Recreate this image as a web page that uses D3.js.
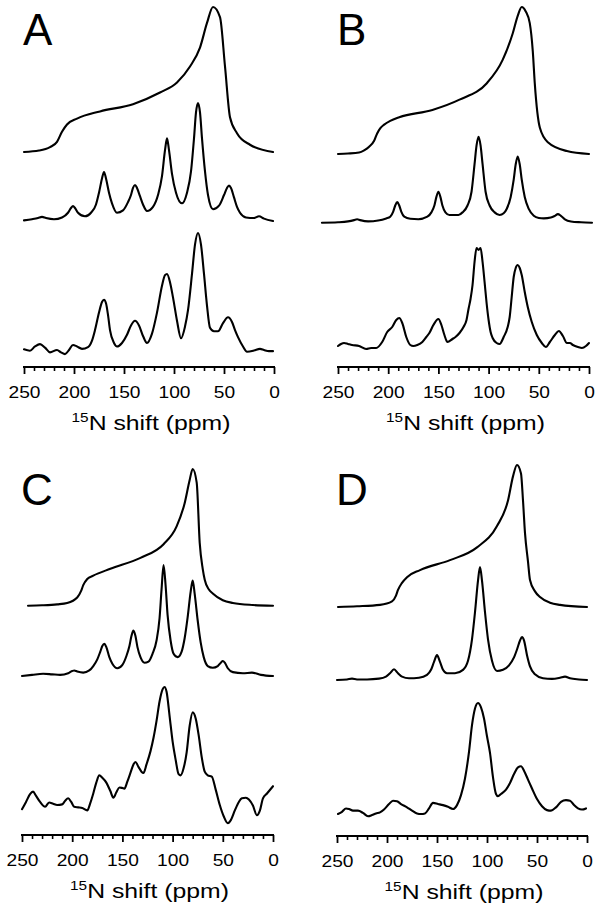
<!DOCTYPE html>
<html><head><meta charset="utf-8">
<script src="https://cdn.jsdelivr.net/npm/d3@7"></script>
<style>body{margin:0;background:#fff} svg{display:block}</style>
</head><body>
<script>
// ---- DATA: [ppm, relative intensity] ----
const panelLabels = ["A", "B", "C", "D"];
const majorTicks = [250, 200, 150, 100, 50, 0];
const minorTicks = [240, 230, 220, 210, 190, 180, 170, 160, 140, 130, 120, 110, 90, 80, 70, 60, 40, 30, 20, 10];

const aTop = [[250,0],[235,0.01],[224,0.034],[217,0.07],[212,0.14],[207,0.19],[197,0.23],[174,0.28],[141,0.33],[114,0.41],[97,0.48],[84,0.59],[74,0.72],[67,0.89],[61,1],[54,0.93],[49,0.59],[44,0.24],[37,0.13],[24,0.05],[1,0]];
const aMid = [[250,0.005],[242,0.015],[236,0.025],[232,0.035],[228,0.025],[220,0.015],[212,0.03],[206,0.07],[203,0.11],[201,0.127],[199,0.11],[196,0.07],[189,0.04],[183,0.07],[178,0.14],[175,0.24],[172,0.36],[170,0.415],[168,0.36],[165,0.24],[162,0.15],[157,0.07],[151,0.09],[146,0.16],[143,0.22],[141,0.28],[139,0.305],[137,0.28],[134,0.21],[131,0.14],[127,0.085],[121,0.12],[116,0.22],[112,0.38],[109,0.6],[107,0.70],[105,0.6],[102,0.4],[98,0.24],[92,0.15],[87,0.24],[83,0.42],[80,0.7],[78,0.92],[76,1.0],[74,0.92],[72,0.7],[69,0.42],[66,0.22],[61,0.10],[55,0.13],[50,0.22],[47,0.28],[45,0.30],[43,0.28],[40,0.2],[37,0.12],[34,0.07],[28,0.03],[20,0.025],[15,0.04],[10,0.02],[1,0.0]];
const aExp = [[250,0.006],[244,-0.006],[239,0.03],[234,0.05],[229,0.02],[224,-0.02],[217,0],[213,-0.02],[209,-0.035],[205,0.0],[201,0.043],[197,0.03],[192,0.01],[186,0.025],[182,0.08],[179,0.17],[175,0.32],[172,0.41],[170,0.43],[168,0.40],[166,0.30],[164,0.17],[160,0.06],[157,0.03],[152,0.06],[147,0.13],[143,0.21],[139,0.25],[135,0.21],[131,0.12],[127,0.06],[122,0.14],[117,0.32],[112,0.55],[109,0.64],[107,0.65],[104,0.58],[101,0.45],[97,0.25],[93,0.10],[89,0.2],[86,0.34],[82,0.65],[79,0.9],[76,1.0],[73,0.9],[70,0.65],[67,0.38],[64,0.19],[60,0.16],[56,0.16],[51,0.23],[46,0.28],[42,0.24],[39,0.17],[36,0.11],[31,0.03],[27,-0.015],[20,-0.005],[14,0.01],[10,0.0],[5,-0.01],[1,-0.01]];

const bTop = [[250,0],[240,0.003],[229,0.01],[224,0.025],[219,0.05],[214,0.09],[211,0.14],[208,0.175],[204,0.20],[198,0.225],[189,0.25],[156,0.30],[129,0.37],[102,0.48],[86,0.64],[76,0.82],[71,0.94],[67,1],[63,0.97],[59,0.89],[56,0.7],[54,0.48],[49,0.18],[41,0.08],[22,0.02],[0,0]];
const bMid = [[266,0.0],[250,0.005],[240,0.015],[234,0.03],[231,0.04],[228,0.03],[220,0.015],[210,0.025],[202,0.05],[198,0.07],[195,0.13],[193,0.2],[191,0.24],[189,0.2],[187,0.13],[184,0.07],[178,0.045],[170,0.04],[161,0.07],[157,0.12],[154,0.2],[152,0.3],[150,0.36],[148,0.3],[146,0.2],[143,0.12],[139,0.09],[130,0.09],[126,0.12],[121,0.2],[117,0.36],[114,0.68],[112,0.9],[110,1.0],[108,0.9],[106,0.68],[103,0.36],[99,0.2],[94,0.12],[89,0.09],[85,0.11],[82,0.16],[78,0.3],[75,0.5],[73,0.68],[71,0.77],[69,0.68],[67,0.5],[64,0.3],[60,0.16],[55,0.08],[50,0.055],[45,0.05],[38,0.06],[34,0.08],[31,0.10],[28,0.08],[24,0.04],[18,0.015],[8,0.005],[-3,0.0]];
const bExp = [[250,0.01],[247,0.03],[244,0.04],[240,0.03],[236,0.02],[229,0.01],[222,-0.02],[217,-0.01],[212,-0.01],[206,0.05],[201,0.15],[196,0.20],[192,0.27],[189,0.29],[186,0.24],[182,0.10],[178,0.02],[175,0.01],[171,0.02],[166,0.05],[162,0.10],[159,0.14],[155,0.22],[150,0.28],[147,0.22],[144,0.12],[141,0.05],[136,0.08],[133,0.1],[129,0.14],[125,0.2],[122,0.27],[120,0.38],[118,0.48],[116,0.62],[114,0.85],[112,0.99],[110,0.97],[108,0.99],[106,0.85],[104,0.65],[102,0.44],[100,0.27],[98,0.15],[96,0.09],[92,0.04],[89,0.03],[85,0.10],[81,0.2],[79,0.3],[77,0.5],[75,0.7],[73,0.79],[71,0.82],[69,0.79],[67,0.72],[64,0.55],[61,0.4],[57,0.25],[52,0.12],[47,0.04],[43,0.0],[39,0.05],[34,0.12],[30,0.16],[26,0.11],[22,0.04],[19,0.04],[16,0.02],[11,0.0],[7,-0.01],[3,0.01],[0,0.04]];

const cTop = [[244,0],[230,0.003],[215,0.01],[205,0.02],[195,0.06],[191,0.11],[189,0.15],[185,0.195],[179,0.22],[162,0.27],[132,0.35],[109,0.45],[96,0.58],[88,0.75],[83,0.92],[80,1.0],[76,0.90],[73,0.46],[70,0.27],[68,0.19],[64,0.12],[60,0.09],[50,0.04],[40,0.02],[20,0.005],[0,0]];
const cMid = [[250,0],[240,0.01],[229,0.02],[220,0.015],[212,0.01],[204,0.025],[200,0.045],[198,0.05],[195,0.04],[189,0.03],[183,0.05],[179,0.09],[175,0.15],[172,0.22],[170,0.27],[168,0.29],[166,0.26],[163,0.17],[160,0.11],[155,0.07],[150,0.10],[146,0.18],[143,0.27],[141,0.36],[139,0.41],[137,0.36],[135,0.26],[132,0.17],[128,0.12],[124,0.13],[120,0.2],[116,0.32],[113,0.52],[111,0.78],[109,1.0],[107,0.82],[105,0.55],[102,0.32],[99,0.2],[95,0.17],[91,0.22],[88,0.34],[85,0.53],[82,0.76],[80,0.86],[78,0.74],[75,0.5],[72,0.3],[69,0.17],[65,0.09],[60,0.075],[55,0.09],[52,0.12],[50,0.135],[48,0.12],[45,0.07],[40,0.035],[30,0.025],[21,0.03],[12,0.01],[0,0]];
const cExp = [[250,-0.01],[246,0.05],[242,0.115],[239,0.135],[236,0.10],[232,0.05],[227,0.01],[223,0.045],[219,0.035],[215,0.025],[210,0.03],[207,0.06],[204,0.08],[201,0.05],[198,0.01],[194,0.005],[190,0.0],[185,-0.02],[182,0.04],[179,0.12],[176,0.21],[173,0.27],[170,0.25],[166,0.21],[162,0.14],[159,0.085],[156,0.13],[153,0.17],[150,0.165],[148,0.16],[145,0.22],[142,0.29],[139,0.36],[137,0.38],[134,0.34],[131,0.30],[129,0.29],[126,0.36],[122,0.47],[119,0.58],[116,0.72],[113,0.88],[110,0.98],[108,1.0],[106,0.96],[103,0.76],[100,0.55],[97,0.40],[94,0.28],[92,0.27],[89,0.33],[86,0.46],[83,0.68],[80,0.79],[77,0.74],[74,0.6],[71,0.42],[68,0.3],[65,0.27],[61,0.26],[57,0.15],[53,0.025],[49,-0.07],[45,-0.125],[42,-0.1],[38,-0.02],[34,0.05],[31,0.08],[27,0.085],[24,0.07],[20,0.02],[16,-0.06],[13,-0.02],[10,0.08],[6,0.12],[0,0.18]];

const dTop = [[249,0],[230,0.005],[207,0.015],[195,0.04],[191,0.08],[189,0.12],[185,0.17],[180,0.21],[167,0.26],[137,0.33],[110,0.42],[90,0.57],[79,0.75],[74,0.92],[70,1.0],[66,0.94],[64,0.75],[62,0.52],[59,0.32],[57,0.19],[52,0.11],[47,0.07],[37,0.03],[27,0.015],[0,0]];
const dMid = [[250,0],[240,0.005],[235,0.012],[230,0.005],[220,0.005],[208,0.012],[201,0.03],[197,0.06],[193,0.095],[189,0.06],[185,0.03],[178,0.015],[168,0.02],[160,0.045],[156,0.09],[153,0.16],[150,0.22],[147,0.16],[144,0.09],[140,0.06],[132,0.06],[124,0.09],[119,0.17],[115,0.36],[112,0.6],[109,0.88],[107,1.0],[105,0.88],[102,0.6],[99,0.36],[95,0.17],[90,0.08],[84,0.09],[78,0.13],[73,0.2],[70,0.27],[67,0.35],[65,0.38],[63,0.35],[60,0.22],[57,0.12],[52,0.05],[44,0.015],[35,0.01],[27,0.02],[22,0.03],[17,0.015],[8,0.005],[0,0]];
const dExp = [[249,0],[245,0.02],[241,0.05],[238,0.045],[234,0.03],[229,0.03],[224,0.01],[219,-0.02],[215,-0.01],[211,0.005],[207,0.015],[203,0.04],[198,0.09],[194,0.12],[190,0.115],[186,0.09],[180,0.06],[175,0.03],[170,0.005],[166,0.0],[162,0.005],[158,0.05],[154,0.10],[149,0.09],[144,0.08],[139,0.065],[134,0.045],[130,0.08],[126,0.17],[122,0.32],[118,0.56],[115,0.80],[112,0.95],[109,1.0],[106,0.96],[103,0.86],[100,0.7],[97,0.55],[94,0.33],[91,0.18],[89,0.16],[86,0.18],[81,0.22],[77,0.28],[73,0.36],[69,0.42],[66,0.43],[63,0.39],[59,0.31],[55,0.23],[50,0.135],[45,0.07],[40,0.035],[36,0.03],[31,0.06],[26,0.11],[21,0.125],[17,0.12],[13,0.08],[9,0.05],[5,0.04],[1,0.05]];

// ---- LAYOUT ----
const W = 601, H = 913;
const panels = [
  {label: panelLabels[0], x0: 24,  x1: 274, axisY: 367, labelY: 45,
   traces: [{d: aTop, base: 152, amp: 145}, {d: aMid, base: 221, amp: 118}, {d: aExp, base: 350, amp: 117}]},
  {label: panelLabels[1], x0: 338, x1: 589, axisY: 367, labelY: 45,
   traces: [{d: bTop, base: 154, amp: 147}, {d: bMid, base: 222.7, amp: 86}, {d: bExp, base: 347, amp: 100}]},
  {label: panelLabels[2], x0: 22,  x1: 273, axisY: 835, labelY: 505,
   traces: [{d: cTop, base: 605.7, amp: 136.7}, {d: cMid, base: 676, amp: 111}, {d: cExp, base: 808, amp: 121}]},
  {label: panelLabels[3], x0: 337, x1: 587, axisY: 836, labelY: 505,
   traces: [{d: dTop, base: 607, amp: 142}, {d: dMid, base: 680, amp: 113}, {d: dExp, base: 814, amp: 111}]}
];
const FONT = "'Liberation Sans', Arial, Helvetica, sans-serif";

const svg = d3.select("body").append("svg").attr("width", W).attr("height", H)
  .style("font-family", FONT);

panels.forEach(p => {
  const x = d3.scaleLinear().domain([250, 0]).range([p.x0, p.x1]);
  const g = svg.append("g");

  p.traces.forEach(t => {
    const y = d3.scaleLinear().domain([0, 1]).range([t.base, t.base - t.amp]);
    const line = d3.line().x(d => x(d[0])).y(d => y(d[1])).curve(d3.curveMonotoneX);
    g.append("path").datum(t.d).attr("d", line)
      .attr("fill", "none").attr("stroke", "#000").attr("stroke-width", 2.1)
      .attr("stroke-linejoin", "round").attr("stroke-linecap", "round");
  });

  // minor ticks
  const minor = g.append("g").attr("transform", `translate(0,${p.axisY})`)
    .call(d3.axisBottom(x).tickValues(minorTicks).tickSize(4).tickSizeOuter(0).tickFormat(""));
  minor.select(".domain").remove();
  minor.selectAll(".tick line").attr("stroke-width", 1.6);

  // major ticks with labels
  const major = g.append("g").attr("transform", `translate(0,${p.axisY})`)
    .call(d3.axisBottom(x).tickValues(majorTicks).tickSize(7).tickSizeOuter(0).tickPadding(12));
  major.select(".domain").attr("stroke-width", 2).attr("d", `M${p.x0 - 1},0H${p.x1 + 1}`);
  major.selectAll(".tick line").attr("stroke-width", 1.8);
  major.selectAll(".tick text").attr("font-size", 17).attr("font-family", FONT).attr("fill", "#000")
    .attr("transform", "scale(1.13,1)");

  // axis title (slightly wide lettering, as in the original)
  const tg = g.append("g").attr("transform", `translate(${(p.x0 + p.x1) / 2 + 2},${p.axisY + 63}) scale(1.18,1)`);
  const title = tg.append("text").attr("x", 0).attr("y", 0)
    .attr("text-anchor", "middle").attr("font-size", 21).attr("fill", "#000");
  title.append("tspan").attr("font-size", 13).attr("dy", -8).text("15");
  title.append("tspan").attr("dy", 8).text("N shift (ppm)");

  // panel label
  g.append("text").attr("x", p.x0 - 1).attr("y", p.labelY)
    .attr("font-size", 44).attr("fill", "#000").text(p.label);
});
</script>
</body></html>
